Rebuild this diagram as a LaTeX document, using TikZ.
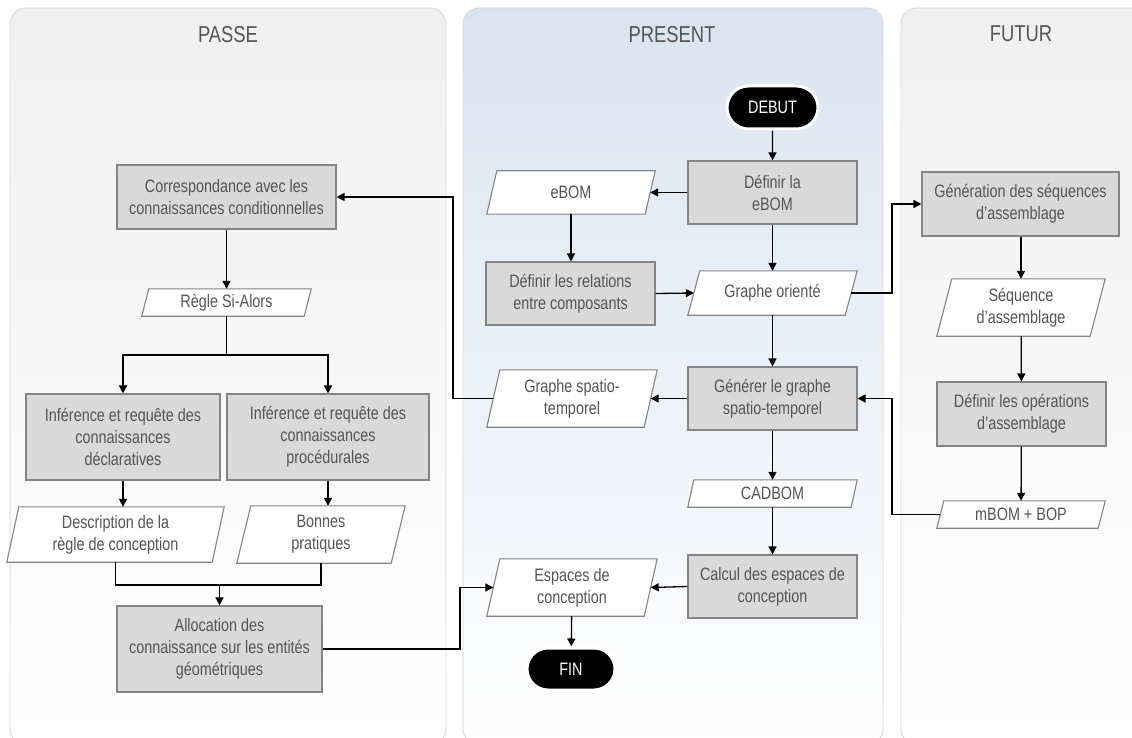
\documentclass[tikz,border=0pt]{standalone}
\usepackage{fontspec}
\setmainfont{Liberation Sans}[FakeStretch=0.80]
\usetikzlibrary{arrows.meta,calc,shapes.misc}
\definecolor{txt}{HTML}{555555}
\definecolor{boxfill}{HTML}{D9D9D9}
\definecolor{boxline}{HTML}{858585}
\definecolor{panline}{HTML}{D6D6D6}
\definecolor{pasfill}{HTML}{F0F0F0}
\definecolor{prefill}{HTML}{DAE4F1}
\pgfdeclarelayer{bg}\pgfdeclarelayer{mid}\pgfsetlayers{bg,mid,main}
\begin{document}
\begin{tikzpicture}[x=1pt,y=-1pt,
  every node/.style={font=\fontsize{18}{22}\selectfont, text=txt, align=center, inner sep=0pt},
  procbox/.style 2 args={draw=boxline, fill=boxfill, line width=1.1pt, minimum width=#1, minimum height=#2},
  databox/.style 2 args={minimum width=#1, minimum height=#2},
  term/.style 2 args={rounded rectangle, fill=black, draw=white, line width=3pt, text=white, minimum width=#1, minimum height=#2},
  title/.style={font=\fontsize{23}{26}\selectfont},
  arr/.style={-{Triangle[length=8pt,width=8pt]}, line width=1.3pt, black},
  conn/.style={line width=1.3pt, black}]
\useasboundingbox (0,0) rectangle (1132,738);
\clip (0,0) rectangle (1132,738);

% panels
\begin{pgfonlayer}{bg}
\shadedraw[top color=pasfill, middle color=pasfill!80!white, bottom color=white, draw=panline, line width=0.8pt, rounded corners=16pt] (10,8) rectangle (446,745);
\shadedraw[top color=prefill, middle color=prefill!75!white, bottom color=white, draw=panline, line width=0.8pt, rounded corners=16pt] (463,8) rectangle (883,745);
\shadedraw[top color=pasfill, middle color=pasfill!80!white, bottom color=white, draw=panline, line width=0.8pt, rounded corners=16pt] (901,8) rectangle (1150,745);
\end{pgfonlayer}

\node[title] (tpasse) at (228,35) {PASSE};
\node[title] (tpresent) at (672,35) {PRESENT};
\node[title] (tfutur) at (1021,34) {FUTUR};

% PASSE
\node[procbox={219}{64}] (corr) at (226.5,197) {Correspondance avec les\\connaissances conditionnelles};
\node[databox={162}{27}] (regle) at (226.5,302.5) {Règle Si-Alors};
\node[procbox={194}{86}] (infd) at (123,437) {Inférence et requête des\\connaissances\\déclaratives};
\node[procbox={202}{86}] (infp) at (328,437) {Inférence et requête des\\connaissances\\procédurales};
\node[databox={205}{55}] (desc) at (115.5,534.5) {Description de la\\règle de conception};
\node[databox={154}{57}] (bonnes) at (321,534.5) {Bonnes\\pratiques};
\node[procbox={205}{86}] (alloc) at (219.5,649) {Allocation des\\connaissance sur les entités\\géométriques};

% PRESENT
\node[term={91}{43}] (debut) at (772.5,107.5) {DEBUT};
\node[procbox={169}{63}] (defebom) at (772.5,192.5) {Définir la\\eBOM};
\node[databox={158}{43}] (ebom) at (571,192.5) {eBOM};
\node[procbox={169}{63}] (defrel) at (570.5,293.5) {Définir les relations\\entre composants};
\node[databox={157}{44}] (graphe) at (772.5,293) {Graphe orienté};
\node[procbox={169}{63}] (gen) at (772.5,398.5) {Générer le graphe\\spatio-temporel};
\node[databox={157}{57}] (spatio) at (572,398.5) {Graphe spatio-\\temporel};
\node[databox={163}{27}] (cadbom) at (772.5,493.5) {CADBOM};
\node[procbox={169}{63}] (calc) at (772.5,586.5) {Calcul des espaces de\\conception};
\node[databox={157}{57}] (espaces) at (572,587.5) {Espaces de\\conception};
\node[term={88}{42}] (fin) at (571,669) {FIN};

% FUTUR
\node[procbox={197}{64}] (genseq) at (1020.5,204) {Génération des séquences\\d’assemblage};
\node[databox={153}{57}] (seq) at (1021,307.5) {Séquence\\d’assemblage};
\node[procbox={169}{64}] (defop) at (1021.5,414) {Définir les opérations\\d’assemblage};
\node[databox={161}{27}] (mbom) at (1021,514.5) {mBOM + BOP};

% parallelogram outlines
\begin{pgfonlayer}{mid}
\foreach \n/\s in {regle/7, desc/12, bonnes/14, ebom/10, graphe/12, spatio/13, cadbom/6, espaces/13, seq/15, mbom/7}{
  \filldraw[fill=white, draw=boxline, line width=1.1pt]
    ($(\n.north west)+(\s/2,0)$) -- ($(\n.north east)+(\s/2,0)$) --
    ($(\n.south east)-(\s/2,0)$) -- ($(\n.south west)-(\s/2,0)$) -- cycle;
}
\end{pgfonlayer}

\coordinate (vr) at (892,0);
\coordinate (vl) at (453,0);
\coordinate (va) at (460,0);
\coordinate (split) at (226.5,355);
\coordinate (join) at (219.5,585);

% connectors PRESENT
\draw[arr] (debut) -- (defebom);
\draw[arr] (defebom.west) -- (ebom.east);
\draw[arr] (defebom) -- (graphe);
\draw[arr] (ebom.south) -- (ebom.south |- defrel.north);
\draw[arr] (defrel.east) -- (graphe.west);
\draw[arr] (graphe) -- (gen);
\draw[arr] (gen.west) -- (spatio.east);
\draw[arr] (gen) -- (cadbom);
\draw[arr] (cadbom) -- (calc);
\draw[arr] (calc.west) -- (espaces.east);
\draw[arr] (espaces) -- (fin);

% cross-panel
\draw[arr] (graphe.east) -- (graphe.east -| vr) -- (vr |- genseq.west) -- (genseq.west);
\draw[arr] (mbom.west) -- (mbom.west -| vr) -- (vr |- gen.east) -- (gen.east);
\draw[arr] (spatio.west) -- (spatio.west -| vl) -- (vl |- corr.east) -- (corr.east);
\draw[arr] (alloc.east) -- (alloc.east -| va) -- (va |- espaces.west) -- (espaces.west);

% FUTUR
\draw[arr] (genseq.south -| seq.north) -- (seq.north);
\draw[arr] (seq) -- (defop);
\draw[arr] (defop) -- (mbom);

% PASSE
\draw[arr] (corr) -- (regle);
\draw[conn] (regle.south) -- (split);
\draw[arr] (split) -| (infd.north);
\draw[arr] (split) -| (infp.north);
\draw[arr] (infd.south) -- (infd.south |- desc.north);
\draw[arr] (infp.south) -- (infp.south |- bonnes.north);
\draw[conn] (desc.south) |- (join) -| (bonnes.south);
\draw[arr] (join) -- (alloc.north);
\end{tikzpicture}
\end{document}
